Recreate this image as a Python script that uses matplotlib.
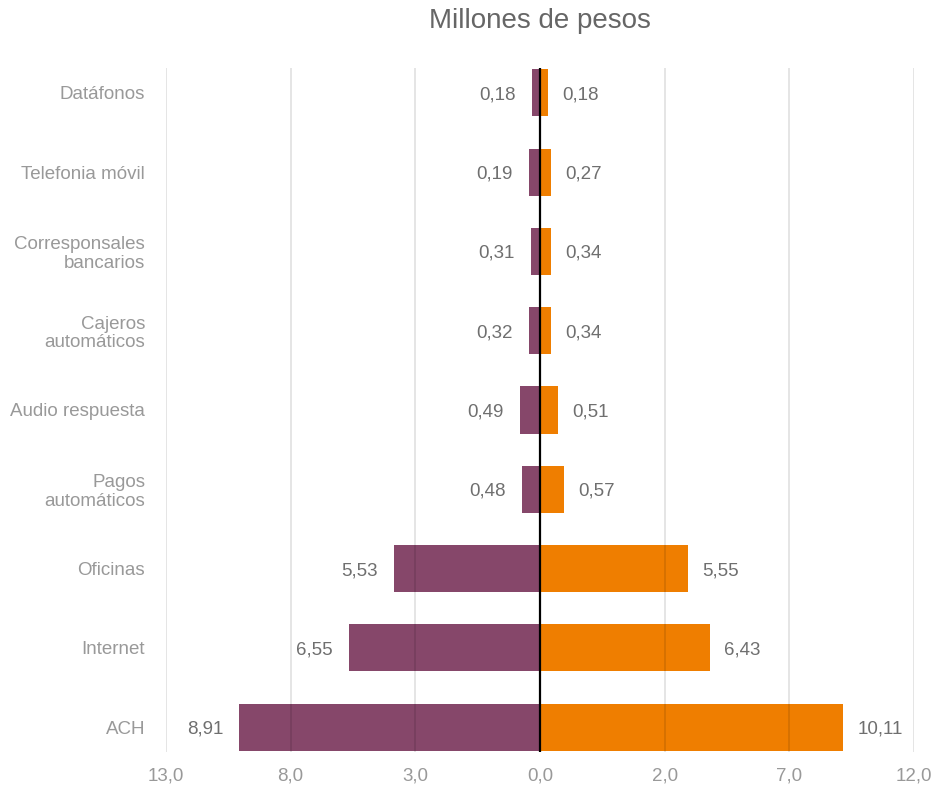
import matplotlib
matplotlib.use("Agg")
import matplotlib.pyplot as plt
import numpy as np

plt.rcParams['font.family'] = ['Liberation Sans', 'DejaVu Sans']

categories = ["Datáfonos", "Telefonia móvil", "Corresponsales\nbancarios",
              "Cajeros\nautomáticos", "Audio respuesta", "Pagos\nautomáticos",
              "Oficinas", "Internet", "ACH"]
# bar lengths as drawn (axis units)
left_len = [0.33, 0.45, 0.36, 0.44, 0.80, 0.72, 5.86, 7.66, 12.07]
right_len = [0.31, 0.44, 0.44, 0.44, 0.71, 0.96, 5.94, 6.81, 12.14]
# value labels shown
left_lbl = ["0,18", "0,19", "0,31", "0,32", "0,49", "0,48", "5,53", "6,55", "8,91"]
right_lbl = ["0,18", "0,27", "0,34", "0,34", "0,51", "0,57", "5,55", "6,43", "10,11"]
tick_pos = [-15, -10, -5, 0, 5, 10, 15]
tick_lbl = ["13,0", "8,0", "3,0", "0,0", "2,0", "7,0", "12,0"]

purple = "#86476A"
orange = "#EF7E00"

W, H = 933, 788
fig = plt.figure(figsize=(W / 100, H / 100), dpi=100)
ax = fig.add_axes([166 / W, 1 - 752 / H, (914 - 166) / W, (752 - 68) / H])

y = np.arange(len(categories))
bh = 0.593
ax.barh(y, [-v for v in left_len], height=bh, color=purple, zorder=2)
ax.barh(y, right_len, height=bh, color=orange, zorder=2)

for t in tick_pos:
    if t != 0:
        ax.axvline(t, color="black", alpha=0.12, lw=1.2, zorder=3)
ax.axvline(0, color="black", lw=1.6, zorder=4)

for i in range(len(categories)):
    ax.annotate(left_lbl[i], (-left_len[i], y[i]), xytext=(-11.5, 0),
                textcoords="offset points", ha="right", va="center_baseline",
                fontsize=13.5, color="#6f6f6f")
    ax.annotate(right_lbl[i], (right_len[i], y[i]), xytext=(10.5, 0),
                textcoords="offset points", ha="left", va="center_baseline",
                fontsize=13.5, color="#6f6f6f")

ax.set_xlim(-15, 15)
ax.set_ylim(len(categories) - 1 + 0.315, -0.315)
ax.set_xticks(tick_pos)
ax.set_xticklabels(tick_lbl, fontsize=13.5, color="#999999")
ax.set_yticks(y)
ax.set_yticklabels(categories, fontsize=13.5, color="#999999", linespacing=1.1)
ax.tick_params(axis="both", length=0)
ax.tick_params(axis="x", pad=11)
ax.tick_params(axis="y", pad=15)
for s in ax.spines.values():
    s.set_visible(False)

fig.text(540 / W, 1 - 28 / H, "Millones de pesos", ha="center", va="baseline",
         fontsize=20, color="#666666")

fig.savefig("out.png", dpi=100)
